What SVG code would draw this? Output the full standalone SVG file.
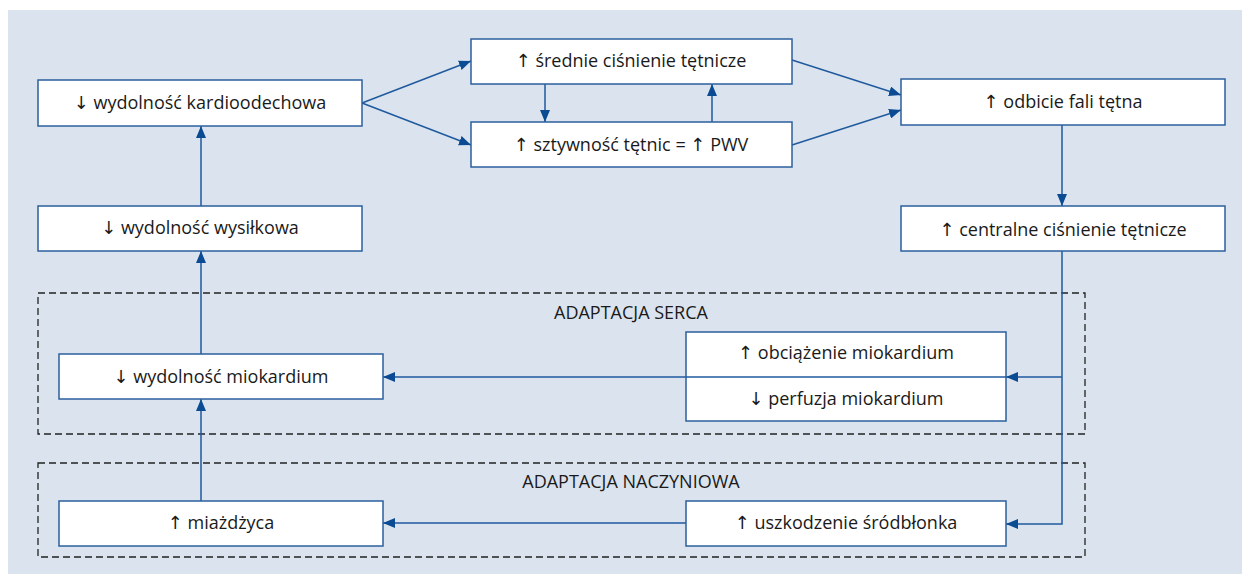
<svg xmlns="http://www.w3.org/2000/svg" width="1244" height="574" viewBox="0 0 1244 574">
<style>
.bg{fill:#dbe4ee}
.box{fill:#fff;stroke:#2d5f9e;stroke-width:1.5}
.grp{fill:none;stroke:#222;stroke-width:1.3;stroke-dasharray:7 4}
.t{font-family:"Open Sans","DejaVu Sans",sans-serif;font-size:18px;fill:#1a1a1a;text-anchor:middle;dominant-baseline:central}
.c{fill:none;stroke:#1f5a9e;stroke-width:1.5}
</style>
<defs>
<marker id="a" viewBox="0 0 12 10" refX="12" refY="5" markerWidth="12" markerHeight="10" markerUnits="userSpaceOnUse" orient="auto">
<path d="M0,0 L12,5 L0,10 Z" fill="#0b4b93"/>
</marker>
</defs>
<rect class="bg" x="8" y="10" width="1234" height="564"/>
<g id="groups">
<rect class="grp" x="38" y="293" width="1047" height="141"/>
<text class="t" x="631" y="312">ADAPTACJA SERCA</text>
<rect class="grp" x="38" y="463" width="1047" height="94"/>
<text class="t" x="631" y="481">ADAPTACJA NACZYNIOWA</text>
</g>
<g id="connectors">
<path class="c" d="M362,103 L471,61" marker-end="url(#a)"/>
<path class="c" d="M362,103 L471,145" marker-end="url(#a)"/>
<path class="c" d="M545,84 L545,122" marker-end="url(#a)"/>
<path class="c" d="M712,122 L712,84" marker-end="url(#a)"/>
<path class="c" d="M792,60 L901,95" marker-end="url(#a)"/>
<path class="c" d="M792,145 L901,110" marker-end="url(#a)"/>
<path class="c" d="M1062,125 L1062,206" marker-end="url(#a)"/>
<path class="c" d="M1062,251 L1062,524 L1006,524" marker-end="url(#a)"/>
<path class="c" d="M1062,377 L1006,377" marker-end="url(#a)"/>
<path class="c" d="M686,377 L383,377" marker-end="url(#a)"/>
<path class="c" d="M686,523 L383,523" marker-end="url(#a)"/>
<path class="c" d="M201,501 L201,399" marker-end="url(#a)"/>
<path class="c" d="M201,354 L201,251" marker-end="url(#a)"/>
<path class="c" d="M201,206 L201,126" marker-end="url(#a)"/>
</g>
<g id="n1"><rect class="box" x="38" y="80" width="324" height="46"/><text class="t" x="200" y="102">↓ wydolność kardioodechowa</text></g>
<g id="n2"><rect class="box" x="471" y="39" width="321" height="45"/><text class="t" x="631" y="60">↑ średnie ciśnienie tętnicze</text></g>
<g id="n3"><rect class="box" x="471" y="122" width="321" height="45"/><text class="t" x="631" y="144">↑ sztywność tętnic = ↑ PWV</text></g>
<g id="n4"><rect class="box" x="901" y="79" width="324" height="46"/><text class="t" x="1063" y="101">↑ odbicie fali tętna</text></g>
<g id="n5"><rect class="box" x="901" y="206" width="324" height="45"/><text class="t" x="1063" y="229">↑ centralne ciśnienie tętnicze</text></g>
<g id="n6"><rect class="box" x="38" y="206" width="324" height="45"/><text class="t" x="200" y="227">↓ wydolność wysiłkowa</text></g>
<g id="n7"><rect class="box" x="59" y="354" width="324" height="45"/><text class="t" x="221" y="376">↓ wydolność miokardium</text></g>
<g id="n8"><rect class="box" x="686" y="332" width="320" height="89"/><line x1="686" y1="377" x2="1006" y2="377" stroke="#1f5a9e" stroke-width="1.5"/><text class="t" x="846" y="352">↑ obciążenie miokardium</text><text class="t" x="846" y="398">↓ perfuzja miokardium</text></g>
<g id="n9"><rect class="box" x="59" y="501" width="324" height="45"/><text class="t" x="221" y="522">↑ miażdżyca</text></g>
<g id="n10"><rect class="box" x="686" y="501" width="320" height="45"/><text class="t" x="846" y="522">↑ uszkodzenie śródbłonka</text></g>
</svg>
